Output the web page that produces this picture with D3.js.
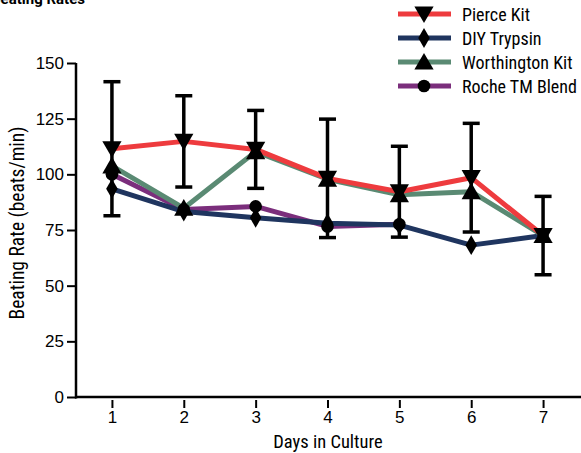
<!DOCTYPE html>
<html><head><meta charset="utf-8">
<script src="https://cdn.jsdelivr.net/npm/d3@7"></script>
<style>body{margin:0;background:#fff}svg{display:block}text{font-family:"Liberation Sans Narrow","Arial Narrow","Roboto Condensed","DejaVu Sans Condensed",sans-serif}</style>
</head><body><svg id="c" width="581" height="453"></svg>
<script>
const days = [1,2,3,4,5,6,7];
const seriesNames = ["Pierce Kit","DIY Trypsin","Worthington Kit","Roche TM Blend"];
const pierce = [111.5,114.8,111.2,98.2,92.2,98.5,72.5];
const pierceErr = [30.1,20.5,17.5,26.6,20.4,24.4,17.6];
const diy = [93.5,83.3,80.5,78,77.2,68.2,72.5];
const worthington = [103.8,84.8,110.2,97.8,90.8,92.2,72.5];
const roche = [100,84.2,85.6,76.6,77.6];
const yTicks = [0,25,50,75,100,125,150];
const colors = ["#ee3b3e","#1f355f","#5a8a73","#7b2e7c"];
const symbolTypes = [d3.symbolTriangle,d3.symbolDiamond,d3.symbolTriangle,d3.symbolCircle];

const svg = d3.select("#c");
const x = d3.scaleLinear().domain([0.5,7.5]).range([76,579]);
const y = d3.scaleLinear().domain([0,150]).range([397,63]);

// title (cropped at the top, as in the reference)
svg.append("text").attr("x",-9).attr("y",4).attr("font-size",15).attr("font-weight","bold")
  .style("font-family","Roboto,'Liberation Sans',sans-serif").text("Beating Rates");

// axes
const yAxis = d3.axisLeft(y).tickValues(yTicks).tickSize(9).tickPadding(3);
const gy = svg.append("g").attr("transform","translate(76,0)").call(yAxis);
const xAxis = d3.axisBottom(x).tickValues(days).tickSize(9).tickPadding(4).tickFormat(d3.format("d"));
const gx = svg.append("g").attr("transform","translate(0,398)").call(xAxis);
[gx,gy].forEach(g=>{
  g.selectAll(".domain").remove();
  g.selectAll("line").attr("stroke","#000").attr("stroke-width",2);
  g.selectAll("text").attr("font-size",17).attr("fill","#000")
   .style("font-family",'"Liberation Sans Narrow","Arial Narrow",sans-serif');
});
gx.selectAll(".tick line").attr("y1",2).attr("y2",10);
svg.append("line").attr("x1",76).attr("x2",76).attr("y1",y(150)).attr("y2",y(0)+1.5).attr("stroke","#000").attr("stroke-width",2.5);
svg.append("line").attr("x1",75).attr("x2",581).attr("y1",y(0)).attr("y2",y(0)).attr("stroke","#000").attr("stroke-width",2.5);

// axis titles
svg.append("text").attr("transform","translate(24,223) rotate(-90)").attr("text-anchor","middle")
  .attr("font-size",19.5).text("Beating Rate (beats/min)");
svg.append("text").attr("x",328).attr("y",448).attr("text-anchor","middle").attr("font-size",18.5).text("Days in Culture");

const data = [pierce,diy,worthington,roche];
const line = d3.line().x((d,i)=>x(days[i])).y(d=>y(d));
const drawOrder = [3,1,2,0];
drawOrder.forEach(k=>{
  svg.append("path").datum(data[k]).attr("d",line).attr("fill","none")
    .attr("stroke",colors[k]).attr("stroke-width",5).attr("stroke-linejoin","round");
});

// error bars for Pierce
const eb = svg.append("g").attr("stroke","#000").attr("stroke-width",3.5);
pierce.forEach((v,i)=>{
  const cx = x(days[i]);
  eb.append("line").attr("x1",cx).attr("x2",cx).attr("y1",y(v+pierceErr[i])).attr("y2",y(v-pierceErr[i]));
  [v+pierceErr[i], v-pierceErr[i]].forEach(e=>{
    eb.append("line").attr("x1",cx-8.5).attr("x2",cx+8.5).attr("y1",y(e)).attr("y2",y(e));
  });
});

// markers
const sizes = [160,115,160,125];
drawOrder.forEach(k=>{
  data[k].forEach((v,i)=>{
    const rot = k===0 ? 180 : 0;
    const dy = k===0 ? -2 : (k===2 ? 2 : 0);
    svg.append("path").attr("d",d3.symbol().type(symbolTypes[k]).size(sizes[k])())
      .attr("transform",`translate(${x(days[i])},${y(v)+dy}) rotate(${rot})`).attr("fill","#000");
  });
});

// legend
const legY = [14,38,62,86];
seriesNames.forEach((n,k)=>{
  const g = svg.append("g").attr("transform",`translate(0,${legY[k]})`);
  g.append("line").attr("x1",398).attr("x2",451).attr("stroke",colors[k]).attr("stroke-width",5);
  const rot = k===0 ? 180 : 0;
  const dy = k===0 ? -2 : (k===2 ? 2 : 0);
  g.append("path").attr("d",d3.symbol().type(symbolTypes[k]).size(sizes[k])())
    .attr("transform",`translate(424,${dy}) rotate(${rot})`).attr("fill","#000");
  g.append("text").attr("x",462).attr("y",6.5).attr("font-size",18).text(n);
});
</script></body></html>
